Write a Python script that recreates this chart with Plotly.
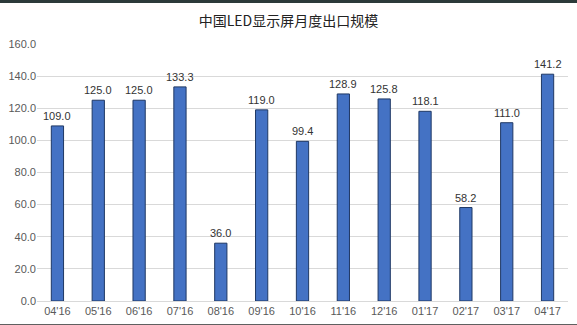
import plotly.graph_objects as go

categories = ["04'16", "05'16", "06'16", "07'16", "08'16", "09'16", "10'16",
              "11'16", "12'16", "01'17", "02'17", "03'17", "04'17"]
values = [109.0, 125.0, 125.0, 133.3, 36.0, 119.0, 99.4, 128.9, 125.8, 118.1, 58.2, 111.0, 141.2]
title = "中国LED显示屏月度出口规模"

fig = go.Figure(go.Bar(
    x=categories, y=values,
    marker=dict(color="#4472C4", line=dict(color="#1F3864", width=1)),
))
for c, v in zip(categories, values):
    fig.add_annotation(x=c, y=v, text=f"{v:.1f}", showarrow=False, yanchor="bottom",
                       yshift=2, font=dict(size=11, color="#333333", family="Liberation Sans, Arial"))
fig.update_layout(
    width=577, height=325,
    margin=dict(l=37, r=9, t=44, b=24),
    paper_bgcolor="white", plot_bgcolor="white",
    bargap=0.7,
    title=dict(text=title, x=0.5, xanchor="center", y=0.935, yanchor="middle",
               font=dict(size=14, color="#222222", family="Noto Sans CJK SC")),
    font=dict(family="Liberation Sans, Arial", size=11, color="#595959"),
    showlegend=False,
    xaxis=dict(showgrid=False, showline=True, linecolor="#D9D9D9", ticks="",
               tickfont=dict(size=11, color="#595959")),
    yaxis=dict(range=[0, 160], dtick=20, tickformat=".1f", showgrid=True,
               gridcolor="#D9D9D9", zeroline=False, ticks="",
               tickfont=dict(size=11, color="#595959")),
    shapes=[
        dict(type="rect", xref="paper", yref="paper", x0=-0.1, x1=1.1, y0=1.16, y1=1.2,
             fillcolor="#2B3A3A", line=dict(width=0)),
        dict(type="rect", xref="paper", yref="paper", x0=-0.1, x1=1.1, y0=-0.09, y1=-0.12,
             fillcolor="#2B2B2B", line=dict(width=0)),
    ],
)
fig.write_html("out.html")
